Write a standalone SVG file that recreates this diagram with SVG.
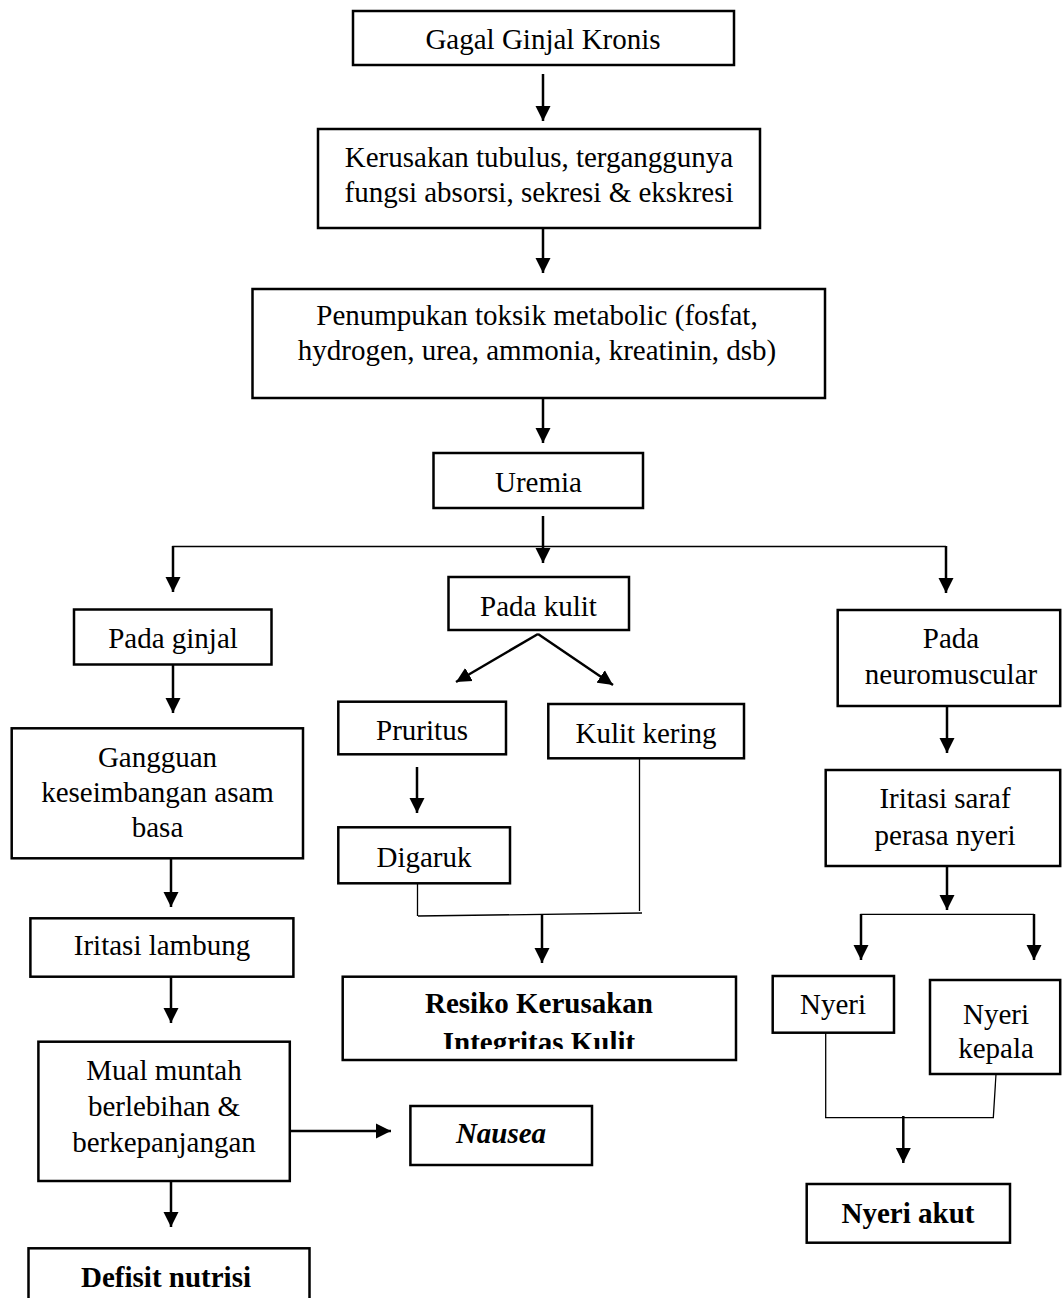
<svg xmlns="http://www.w3.org/2000/svg" width="1062" height="1298" viewBox="0 0 1062 1298">
<defs>
<style>
.box{fill:#fff;stroke:#000;stroke-width:2.5}
.t{font-family:"Liberation Serif","Times New Roman",serif;font-size:29px;text-anchor:middle;fill:#000}
.b{font-weight:bold}
.i{font-style:italic}
.arr{stroke:#000;stroke-width:2.5;fill:none;marker-end:url(#ah)}
.ln{stroke:#000;stroke-width:1.3;fill:none}
</style>
<marker id="ah" markerUnits="userSpaceOnUse" markerWidth="16" markerHeight="16" viewBox="0 0 16 16" refX="15" refY="8" orient="auto">
<path d="M0,0.5 L15,8 L0,15.5 z" fill="#000"/>
</marker>
<clipPath id="clipResiko"><rect x="342" y="976" width="395" height="73"/></clipPath>
</defs>
<rect x="0" y="0" width="1062" height="1298" fill="#fff"/>

<g id="connectors">
<line class="arr" x1="543" y1="74" x2="543" y2="121"/>
<line class="arr" x1="543" y1="228" x2="543" y2="273"/>
<line class="arr" x1="543" y1="398" x2="543" y2="443"/>
<line class="arr" x1="543" y1="516" x2="543" y2="563"/>
<polyline class="ln" points="173,547 173,546.5 946,546.5"/>
<line class="arr" x1="173" y1="546" x2="173" y2="592"/>
<line class="arr" x1="946" y1="546" x2="946" y2="593"/>
<line class="arr" x1="538" y1="634" x2="456" y2="682"/>
<line class="arr" x1="538" y1="634" x2="613" y2="685"/>
<line class="arr" x1="417" y1="767" x2="417" y2="813"/>
<polyline class="ln" points="417.5,883 417.5,916"/>
<line class="ln" x1="418" y1="916" x2="642" y2="913"/>
<line class="ln" x1="639.5" y1="758" x2="639.5" y2="911"/>
<line class="arr" x1="542" y1="914" x2="542" y2="963"/>
<line class="arr" x1="173" y1="664" x2="173" y2="713"/>
<line class="arr" x1="171" y1="858" x2="171" y2="907"/>
<line class="arr" x1="171" y1="977" x2="171" y2="1023"/>
<line class="arr" x1="290" y1="1131" x2="391" y2="1131"/>
<line class="arr" x1="171" y1="1181" x2="171" y2="1227"/>
<line class="arr" x1="947" y1="706" x2="947" y2="753"/>
<line class="arr" x1="947" y1="866" x2="947" y2="910"/>
<polyline class="ln" points="861,960 861,914.3 1034,914.3"/>
<line class="arr" x1="861" y1="914" x2="861" y2="960"/>
<line class="arr" x1="1034" y1="914" x2="1034" y2="960"/>
<line class="ln" x1="825.7" y1="1033" x2="825.7" y2="1117.7"/>
<line class="ln" x1="996" y1="1074" x2="993.3" y2="1117.7"/>
<line class="ln" x1="825" y1="1117.7" x2="994" y2="1117.7"/>
<line class="arr" x1="903.3" y1="1116" x2="903.3" y2="1163"/>
</g>

<g id="n-gagal">
<rect class="box" x="353" y="11" width="381" height="54"/>
<text class="t" x="543" y="49">Gagal Ginjal Kronis</text>
</g>
<g id="n-kerusakan">
<rect class="box" x="318" y="129" width="442" height="99"/>
<text class="t" x="539" y="167">Kerusakan tubulus, terganggunya</text>
<text class="t" x="539" y="202">fungsi absorsi, sekresi &amp; ekskresi</text>
</g>
<g id="n-penumpukan">
<rect class="box" x="252.5" y="289" width="572.5" height="109"/>
<text class="t" x="537" y="325">Penumpukan toksik metabolic (fosfat,</text>
<text class="t" x="537" y="360">hydrogen, urea, ammonia, kreatinin, dsb)</text>
</g>
<g id="n-uremia">
<rect class="box" x="433.5" y="453" width="209.5" height="55"/>
<text class="t" x="538.5" y="492">Uremia</text>
</g>
<g id="n-pada-ginjal">
<rect class="box" x="74" y="609.5" width="197.5" height="55"/>
<text class="t" x="173" y="648">Pada ginjal</text>
</g>
<g id="n-pada-kulit">
<rect class="box" x="448.5" y="577" width="180.5" height="53"/>
<text class="t" x="538.5" y="616">Pada kulit</text>
</g>
<g id="n-pada-neuro">
<rect class="box" x="837.7" y="610" width="222.5" height="96"/>
<text class="t" x="951" y="648">Pada</text>
<text class="t" x="951" y="684">neuromuscular</text>
</g>
<g id="n-gangguan">
<rect class="box" x="11.7" y="728.3" width="291.3" height="130"/>
<text class="t" x="157.5" y="767">Gangguan</text>
<text class="t" x="157.5" y="802">keseimbangan asam</text>
<text class="t" x="157.5" y="837">basa</text>
</g>
<g id="n-pruritus">
<rect class="box" x="338.3" y="701.7" width="167.7" height="52.6"/>
<text class="t" x="422" y="740">Pruritus</text>
</g>
<g id="n-kulit-kering">
<rect class="box" x="548.3" y="704" width="195.7" height="54.3"/>
<text class="t" x="646" y="743">Kulit kering</text>
</g>
<g id="n-digaruk">
<rect class="box" x="338.3" y="827.3" width="171.7" height="56"/>
<text class="t" x="424" y="866.7">Digaruk</text>
</g>
<g id="n-resiko">
<rect class="box" x="342.7" y="976.7" width="393.3" height="83.3"/>
<g clip-path="url(#clipResiko)">
<text class="t b" x="539" y="1013">Resiko Kerusakan</text>
<text class="t b" x="539" y="1052">Integritas Kulit</text>
</g>
</g>
<g id="n-iritasi-lambung">
<rect class="box" x="30.4" y="918.3" width="263" height="58.4"/>
<text class="t" x="162" y="955">Iritasi lambung</text>
</g>
<g id="n-mual">
<rect class="box" x="38.4" y="1041.7" width="251.4" height="139.3"/>
<text class="t" x="164" y="1080">Mual muntah</text>
<text class="t" x="164" y="1116">berlebihan &amp;</text>
<text class="t" x="164" y="1152">berkepanjangan</text>
</g>
<g id="n-nausea">
<rect class="box" x="410.4" y="1106" width="181.6" height="59"/>
<text class="t b i" x="501" y="1143">Nausea</text>
</g>
<g id="n-defisit">
<rect class="box" x="28.5" y="1248.3" width="281" height="60"/>
<text class="t b" x="166" y="1287">Defisit nutrisi</text>
</g>
<g id="n-iritasi-saraf">
<rect class="box" x="825.7" y="770" width="234.5" height="96"/>
<text class="t" x="945" y="808">Iritasi saraf</text>
<text class="t" x="945" y="845">perasa nyeri</text>
</g>
<g id="n-nyeri">
<rect class="box" x="772.7" y="976" width="121.3" height="56.7"/>
<text class="t" x="833" y="1014">Nyeri</text>
</g>
<g id="n-nyeri-kepala">
<rect class="box" x="930" y="980" width="130.2" height="94"/>
<text class="t" x="996" y="1024">Nyeri</text>
<text class="t" x="996" y="1058">kepala</text>
</g>
<g id="n-nyeri-akut">
<rect class="box" x="806.7" y="1184" width="203.3" height="58.7"/>
<text class="t b" x="908" y="1222.7">Nyeri akut</text>
</g>
</svg>
